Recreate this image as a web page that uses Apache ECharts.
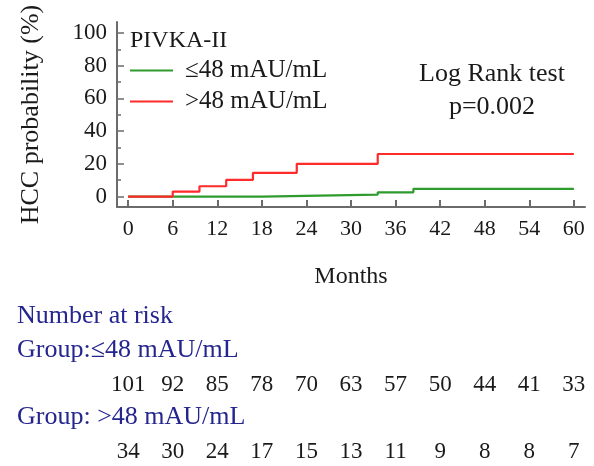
<!DOCTYPE html>
<html>
<head>
<meta charset="utf-8">
<script src="https://cdn.jsdelivr.net/npm/echarts@6/dist/echarts.min.js"></script>
<style>
  html, body { margin: 0; padding: 0; background: #fff; }
  #chart-container { width: 594px; height: 466px; }
</style>
</head>
<body>
<div id="chart-container"></div>
<script>
// KM step points (months, cumulative HCC probability %)
var lowMonths = [0, 18, 33.6, 38.4, 60];
var lowProb = [0, 1.2, 2.6, 4.7, 4.7];
var highMonths = [0, 6, 9.6, 13.2, 16.8, 22.7, 33.6, 60];
var highProb = [0, 3.0, 6.3, 10.2, 14.5, 20.0, 26.0, 26.0];

var monthTicks = [0, 6, 12, 18, 24, 30, 36, 42, 48, 54, 60];
var probTicks = [0, 20, 40, 60, 80, 100];
var probMinorTicks = [10, 30, 50, 70, 90];

var riskLow = [101, 92, 85, 78, 70, 63, 57, 50, 44, 41, 33];
var riskHigh = [34, 30, 24, 17, 15, 13, 11, 9, 8, 8, 7];

var FONT = "Liberation Serif";
var AXIS_COLOR = "#6b6b6b";
var BLUE = "#25258f";

function pairs(xs, ys) {
  return xs.map(function (x, i) { return [x, ys[i]]; });
}

var dom = document.getElementById("chart-container");
var myChart = echarts.init(dom, null, { renderer: "canvas" });

function riskAxis(gridIndex, values) {
  return {
    type: "value",
    gridIndex: gridIndex,
    min: -1.5,
    max: 61.5,
    axisLine: { show: false, onZero: false },
    axisTick: { show: false },
    splitLine: { show: false },
    axisLabel: {
      customValues: monthTicks,
      margin: 12,
      verticalAlign: "middle",
      fontFamily: FONT,
      fontSize: 23,
      color: "#1a1a1a",
      formatter: function (v) {
        var i = monthTicks.indexOf(v);
        return i >= 0 ? String(values[i]) : "";
      }
    }
  };
}

function hiddenY(gridIndex) {
  return {
    type: "value",
    gridIndex: gridIndex,
    show: false
  };
}

var option = {
  animation: false,
  backgroundColor: "#fff",
  title: [
    {
      text: "PIVKA-II",
      left: 130,
      top: 28,
      padding: 0,
      textStyle: { fontFamily: FONT, fontSize: 24, fontWeight: "normal", color: "#1a1a1a", lineHeight: 26 }
    },
    {
      text: "Log Rank test\np=0.002",
      left: 492,
      top: 58,
      textAlign: "center",
      padding: 0,
      textStyle: { fontFamily: FONT, fontSize: 26, fontWeight: "normal", color: "#1a1a1a", lineHeight: 33, align: "center" }
    }
  ],
  legend: {
    orient: "vertical",
    left: 130,
    top: 58,
    padding: 0,
    itemGap: 6,
    itemWidth: 43,
    itemHeight: 2,
    icon: "rect",
    textStyle: { fontFamily: FONT, fontSize: 25, color: "#1a1a1a", lineHeight: 25, padding: [0, 0, 0, 7] },
    data: ["\u226448 mAU/mL", ">48 mAU/mL"]
  },
  grid: [
    { left: 117, right: 9, top: 22, height: 185 },
    { left: 117, right: 9, top: 372, height: 1 },
    { left: 117, right: 9, top: 439, height: 1 }
  ],
  xAxis: [
    {
      type: "value",
      gridIndex: 0,
      min: -1.5,
      max: 61.5,
      name: "Months",
      nameLocation: "middle",
      nameGap: 70,
      nameTextStyle: { fontFamily: FONT, fontSize: 24, color: "#1a1a1a", verticalAlign: "middle" },
      axisLine: { onZero: false, lineStyle: { color: AXIS_COLOR, width: 2 } },
      axisTick: { inside: true, length: 7, customValues: monthTicks, lineStyle: { color: AXIS_COLOR, width: 2 } },
      axisLabel: { customValues: monthTicks, margin: 22, verticalAlign: "middle", fontFamily: FONT, fontSize: 22, color: "#1a1a1a" },
      splitLine: { show: false }
    },
    riskAxis(1, riskLow),
    riskAxis(2, riskHigh)
  ],
  yAxis: [
    {
      type: "value",
      gridIndex: 0,
      position: "left",
      min: -6.4,
      max: 106.7,
      name: "HCC probability (%)",
      nameLocation: "middle",
      nameGap: 86,
      nameRotate: 90,
      nameTextStyle: { fontFamily: FONT, fontSize: 26, color: "#1a1a1a", verticalAlign: "middle" },
      axisLine: { show: true, onZero: false, lineStyle: { color: AXIS_COLOR, width: 2 } },
      axisTick: { show: true, inside: true, length: 7, customValues: probTicks, lineStyle: { color: AXIS_COLOR, width: 1.5 } },
      axisLabel: { customValues: probTicks, margin: 10, fontFamily: FONT, fontSize: 23, color: "#1a1a1a" },
      splitLine: { show: false }
    },
    {
      type: "value",
      gridIndex: 0,
      position: "left",
      offset: 0,
      min: -6.4,
      max: 106.7,
      axisLine: { show: false, onZero: false },
      axisTick: { show: true, inside: true, length: 4, customValues: probMinorTicks, lineStyle: { color: AXIS_COLOR, width: 1.5 } },
      axisLabel: { show: false },
      splitLine: { show: false }
    },
    hiddenY(1),
    hiddenY(2)
  ],
  graphic: [
    { type: "text", left: 17, top: 303, style: { text: "Number at risk", font: "26px '" + FONT + "'", fill: BLUE } },
    { type: "text", left: 17, top: 337, style: { text: "Group:\u226448 mAU/mL", font: "26px '" + FONT + "'", fill: BLUE } },
    { type: "text", left: 17, top: 404, style: { text: "Group: >48 mAU/mL", font: "26px '" + FONT + "'", fill: BLUE } }
  ],
  series: [
    {
      name: "\u226448 mAU/mL",
      type: "line",
      xAxisIndex: 0,
      yAxisIndex: 0,
      step: "end",
      symbol: "none",
      color: "#2e9b2e",
      lineStyle: { width: 2.2, color: "#2e9b2e" },
      data: pairs(lowMonths, lowProb)
    },
    {
      name: ">48 mAU/mL",
      type: "line",
      xAxisIndex: 0,
      yAxisIndex: 0,
      step: "end",
      symbol: "none",
      color: "#ff2a2a",
      lineStyle: { width: 2.2, color: "#ff2a2a" },
      data: pairs(highMonths, highProb)
    }
  ]
};

if (option && typeof option === "object") {
  myChart.setOption(option, true);
}
</script>
</body>
</html>
